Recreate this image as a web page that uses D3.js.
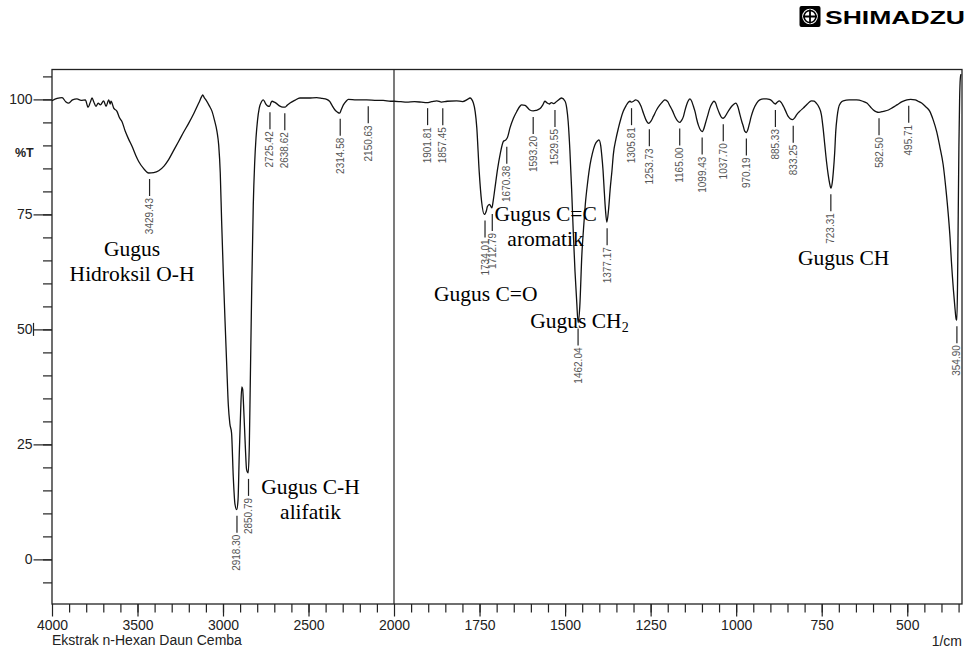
<!DOCTYPE html>
<html>
<head>
<meta charset="utf-8">
<script src="https://cdn.jsdelivr.net/npm/d3@7"></script>
<style>
  body { margin: 0; background: #fff; }
  .tick text { font-family: "Liberation Sans", Arial, sans-serif; fill: #222; }
</style>
</head>
<body>
<div class="chart"></div>
<script>
// spectrum (1/cm, %T)
var wavenumber = [4000, 3970, 3941, 3920, 3902, 3880, 3854, 3830, 3805, 3789, 3775, 3766, 3755, 3743, 3730, 3717, 3698, 3684, 3668, 3660, 3655, 3639, 3620, 3605, 3591, 3571, 3550, 3532, 3510, 3493, 3465, 3435, 3405, 3376, 3345, 3318, 3290, 3259, 3230, 3201, 3170, 3142, 3125, 3119, 3110, 3100, 3080, 3064, 3050, 3035, 3025, 3016, 3008, 2998, 2988, 2978, 2969, 2960, 2950, 2940, 2930, 2920, 2912, 2905, 2897, 2890, 2885, 2878, 2870, 2862, 2853, 2846, 2841, 2832, 2823, 2815, 2807, 2798, 2788, 2775, 2764, 2750, 2740, 2728, 2718, 2712, 2700, 2690, 2670, 2650, 2638, 2625, 2608, 2580, 2550, 2500, 2452, 2420, 2394, 2375, 2364, 2345, 2330, 2318, 2308, 2296, 2280, 2267, 2220, 2160, 2100, 2063, 2020, 2000, 1980, 1963, 1940, 1920, 1904, 1890, 1875, 1861, 1845, 1817, 1800, 1785, 1778, 1768, 1758, 1751, 1744, 1736, 1730, 1727, 1721, 1714, 1710, 1705, 1697, 1690, 1680, 1673, 1668, 1661, 1651, 1641, 1632, 1627, 1617, 1603, 1593, 1585, 1573, 1565, 1559, 1552, 1546, 1540, 1534, 1524, 1510, 1500, 1495, 1491, 1486, 1481, 1476, 1471, 1466, 1462, 1457, 1451, 1446, 1441, 1434, 1427, 1420, 1413, 1405, 1401, 1396, 1393, 1389, 1386, 1382, 1378, 1373, 1368, 1363, 1359, 1351, 1344, 1337, 1330, 1322, 1315, 1310, 1306, 1300, 1294, 1286, 1278, 1271, 1264, 1256, 1249, 1242, 1232, 1223, 1215, 1208, 1200, 1193, 1186, 1179, 1172, 1165, 1160, 1154, 1150, 1145, 1140, 1135, 1130, 1125, 1120, 1116, 1110, 1103, 1099, 1095, 1091, 1084, 1077, 1070, 1065, 1060, 1055, 1048, 1042, 1038, 1033, 1028, 1020, 1013, 1006, 1001, 995, 989, 984, 979, 975, 970, 966, 962, 956, 950, 940, 931, 920, 911, 903, 896, 890, 886, 880, 874, 868, 862, 855, 848, 842, 835, 829, 823, 813, 804, 792, 780, 772, 766, 758, 751, 746, 741, 736, 731, 727, 723, 719, 716, 712, 709, 705, 701, 694, 687, 670, 648, 630, 618, 608, 599, 590, 583, 570, 555, 543, 530, 515, 501, 490, 477, 468, 458, 446, 434, 424, 414, 405, 395, 387, 380, 375, 371, 365, 361, 357, 355, 353, 351, 349, 347, 345, 343];
var transmittance = [99.7, 100.2, 100.4, 99.5, 99.2, 99.9, 100.1, 99.8, 99.9, 98.3, 99.5, 100.3, 99.4, 98.5, 99.2, 98.8, 99.7, 98.5, 99.9, 99.0, 99.6, 98.1, 97.4, 96.0, 95.2, 93.0, 91.2, 89.8, 87.8, 86.5, 85.0, 84.0, 84.1, 84.5, 85.5, 86.9, 88.8, 90.9, 92.9, 94.8, 97.0, 99.2, 100.6, 101.0, 100.4, 99.9, 98.6, 97.4, 95.5, 93.0, 90.0, 84.0, 73.5, 62, 51.7, 42, 33.6, 29.5, 27.5, 18, 12, 10.8, 13, 22.7, 32, 37.5, 37.0, 32, 25, 19.5, 18.8, 25, 37, 59, 77, 86, 91.6, 95.5, 98.1, 99.5, 99.9, 99.0, 98.6, 98.5, 99.4, 99.6, 99.4, 99.2, 98.6, 98.3, 98.3, 98.7, 99.2, 99.8, 100.3, 100.3, 100.4, 100.2, 100.0, 99.5, 98.8, 97.7, 97.2, 97.0, 97.8, 98.8, 99.6, 100.0, 99.9, 99.9, 99.8, 99.8, 99.6, 99.6, 99.5, 99.4, 99.5, 99.4, 99.3, 99.5, 99.7, 99.4, 99.6, 99.7, 99.5, 100.0, 100.3, 99.2, 93.8, 84.3, 77.8, 75.0, 75.8, 76.7, 77.2, 76.4, 78, 80.7, 85, 88.0, 90.9, 91.2, 91.8, 93.8, 95.9, 97.4, 98.5, 98.8, 98.7, 97.7, 97.5, 97.6, 98.0, 98.8, 99.6, 99.2, 99.0, 99.3, 99.1, 99.6, 100.3, 99.6, 98, 95.2, 89, 80.7, 71, 62.6, 56, 51.5, 55, 66.2, 72, 77.1, 82, 85.8, 88.3, 90.1, 91.0, 91.2, 90.0, 88.0, 84.5, 80.7, 76, 73.3, 76, 80.7, 84.5, 88.0, 91.5, 93.8, 95.8, 97.4, 98.6, 99.4, 99.6, 99.4, 99.6, 99.9, 99.6, 98.5, 97.0, 95.6, 94.8, 95.3, 96.3, 97.8, 98.8, 99.5, 99.9, 99.5, 98.5, 97.5, 96.3, 95.4, 95.0, 95.4, 96.3, 97.5, 98.8, 99.7, 100.1, 99.6, 98.5, 97.3, 95.9, 94.3, 93.2, 93.0, 93.5, 94.5, 96.3, 98.1, 99.2, 99.6, 99.2, 98.1, 96.8, 96.0, 95.9, 96.2, 96.8, 97.8, 98.5, 99.0, 99.2, 98.4, 96.7, 95.3, 94.1, 93.1, 92.8, 93.4, 94.5, 96.3, 97.7, 99.2, 99.9, 100.1, 100.1, 100.0, 99.7, 99.2, 99.0, 99.4, 99.7, 99.3, 98.5, 97.4, 96.3, 95.8, 95.6, 96.0, 96.7, 97.5, 98.1, 99.0, 99.7, 99.6, 99.2, 98.3, 96.7, 93.8, 90.1, 86.5, 83.6, 81.8, 80.7, 82, 84.3, 88.5, 93.0, 96.2, 98.1, 99.3, 99.7, 99.9, 99.9, 99.6, 99.2, 98.4, 97.7, 97.3, 97.2, 97.4, 97.7, 98.2, 98.8, 99.5, 99.9, 100.0, 99.9, 99.6, 99.2, 98.4, 97.4, 95.5, 93.0, 89.8, 85.8, 80.5, 74.9, 70, 64.8, 58.5, 55, 52.2, 52.0, 60, 75, 90, 100, 104.5, 105.5];

// labelled peaks
var peakWave = [3429.43, 2918.30, 2850.79, 2725.42, 2638.62, 2314.58, 2150.63, 1901.81, 1857.45, 1734.01, 1712.79, 1670.38, 1593.20, 1529.55, 1462.04, 1377.17, 1305.81, 1253.73, 1165.00, 1099.43, 1037.70, 970.19, 885.33, 833.25, 723.31, 582.50, 495.71, 354.90];
var peakT = [84.0, 10.8, 18.8, 98.5, 98.3, 97.1, 99.8, 99.4, 99.4, 75.0, 76.4, 91.0, 97.5, 99.0, 51.5, 73.3, 99.4, 94.8, 95.0, 93.0, 95.9, 92.8, 99.0, 95.6, 80.7, 97.2, 99.9, 52.0];

// axis ticks
var xMajor = [4000, 3500, 3000, 2500, 2000, 1750, 1500, 1250, 1000, 750, 500];
var xMinorLeft = d3.range(3900, 2000, -100);
var xMinorRight = d3.range(1950, 340, -50);
var yMajor = [0, 25, 50, 75, 100];
var yMinor = d3.range(-5, 106, 5);

// group annotations: text lines, anchored at (1/cm, %T)
var noteText = [["Gugus", "Hidroksil O-H"], ["Gugus C-H", "alifatik"], ["Gugus C=O"], ["Gugus C=C", "aromatik"], ["Gugus CH|2"], ["Gugus CH"]];
var noteWave = [3532, 2488, 1732, 1557, 1458, 686];
var noteT = [65.9, 14.3, 56.2, 73.5, 50.3, 63.9];

var svgWidth = 967, svgHeight = 650;
var plotLeft = 52, plotRight = 962, plotTop = 69.5, plotBottom = 604;

var svg = d3.select(".chart").append("svg")
  .attr("width", svgWidth)
  .attr("height", svgHeight)
  .style("display", "block");

// x scale is compressed 2:1 above 2000 1/cm, like the instrument printout
var x = d3.scaleLinear().domain([4000, 2000, 340]).range([plotLeft, 394, plotRight]);
var y = d3.scaleLinear().domain([-9.7, 106.5]).range([plotBottom, plotTop]);

// minor ticks
svg.append("g")
  .attr("transform", `translate(0,${plotBottom})`)
  .call(d3.axisBottom(x).tickValues(xMinorLeft.concat(xMinorRight)).tickSize(8.5).tickFormat(""))
  .call(g => g.select(".domain").remove());

svg.append("g")
  .attr("transform", `translate(${plotLeft},0)`)
  .call(d3.axisLeft(y).tickValues(yMinor).tickSize(9).tickFormat(""))
  .call(g => g.select(".domain").remove());

// major ticks with labels
svg.append("g")
  .attr("transform", `translate(0,${plotBottom})`)
  .call(d3.axisBottom(x).tickValues(xMajor).tickSize(12.5).tickPadding(3.5).tickFormat(d3.format("d")))
  .call(g => g.select(".domain").remove())
  .call(g => g.selectAll("text").attr("font-size", "14px"));

svg.append("g")
  .attr("transform", `translate(${plotLeft},0)`)
  .call(d3.axisLeft(y).tickValues(yMajor).tickSize(18.5).tickPadding(1).tickFormat(d3.format("d")))
  .call(g => g.select(".domain").remove())
  .call(g => g.selectAll("text").attr("font-size", "14px"));

svg.selectAll(".tick line").attr("stroke", "#222").attr("stroke-width", 1.2);

// odd little bar next to the 50 label in the printout
svg.append("line")
  .attr("x1", 33.5).attr("x2", 33.5)
  .attr("y1", y(50) - 6.5).attr("y2", y(50) + 6.5)
  .attr("stroke", "#222").attr("stroke-width", 1.2);

// frame and the 2000 divider
svg.append("rect")
  .attr("x", plotLeft).attr("y", plotTop)
  .attr("width", plotRight - plotLeft).attr("height", plotBottom - plotTop)
  .attr("fill", "none").attr("stroke", "#222").attr("stroke-width", 1.3);

svg.append("line")
  .attr("x1", x(2000)).attr("x2", x(2000))
  .attr("y1", plotTop).attr("y2", plotBottom)
  .attr("stroke", "#222").attr("stroke-width", 1.2);

// spectrum
var spectrum = wavenumber.map((w, i) => ({ w: w, t: transmittance[i] }));

var line = d3.line()
  .x(d => x(d.w))
  .y(d => y(d.t))
  .curve(d3.curveMonotoneX);

svg.append("path")
  .datum(spectrum)
  .attr("d", line)
  .attr("fill", "none")
  .attr("stroke", "#111")
  .attr("stroke-width", 1.3)
  .attr("stroke-linejoin", "round");

// peak markers
var peaks = svg.selectAll(".peak")
  .data(peakWave.map((w, i) => ({ w: w, t: peakT[i] })))
  .enter().append("g")
  .attr("class", "peak");

peaks.append("line")
  .attr("x1", d => x(d.w)).attr("x2", d => x(d.w))
  .attr("y1", d => y(d.t) + 6)
  .attr("y2", d => y(d.t) + 23)
  .attr("stroke", "#222")
  .attr("stroke-width", 1.2);

peaks.append("text")
  .attr("transform", d => `translate(${x(d.w)},${y(d.t) + 25}) rotate(-90)`)
  .attr("text-anchor", "end")
  .attr("dy", "0.35em")
  .attr("font-family", "Liberation Sans, Arial, sans-serif")
  .attr("font-size", "10px")
  .attr("fill", "#555")
  .text(d => d.w.toFixed(2));

// group annotations
noteText.forEach(function (lines, i) {
  lines.forEach(function (s, j) {
    var t = svg.append("text")
      .attr("x", x(noteWave[i]))
      .attr("y", y(noteT[i]) + j * 25)
      .attr("text-anchor", "middle")
      .attr("font-family", "Liberation Serif, 'Times New Roman', serif")
      .attr("font-size", "21.5px")
      .attr("fill", "#000");
    var parts = s.split("|");
    t.append("tspan").text(parts[0]);
    if (parts[1]) {
      t.append("tspan").attr("dy", 4).attr("font-size", "14px").text(parts[1]);
    }
  });
});

// axis captions
svg.append("text")
  .attr("x", 15).attr("y", 153)
  .attr("dy", "0.35em")
  .attr("font-family", "Liberation Sans, Arial, sans-serif")
  .attr("font-size", "12.5px")
  .attr("font-weight", "bold")
  .attr("fill", "#222")
  .text("%T");

svg.append("text")
  .attr("x", plotLeft).attr("y", 645)
  .attr("font-family", "Liberation Sans, Arial, sans-serif")
  .attr("font-size", "14px")
  .attr("fill", "#222")
  .text("Ekstrak n-Hexan Daun Cemba");

svg.append("text")
  .attr("x", plotRight).attr("y", 646)
  .attr("text-anchor", "end")
  .attr("font-family", "Liberation Sans, Arial, sans-serif")
  .attr("font-size", "14px")
  .attr("fill", "#222")
  .text("1/cm");

// maker logo
var logo = svg.append("g").attr("transform", "translate(799.5,6)");
logo.append("rect").attr("width", 21).attr("height", 21).attr("rx", 2).attr("fill", "#000");
logo.append("circle").attr("cx", 10.5).attr("cy", 10.5).attr("r", 7.8).attr("fill", "#fff");
logo.append("circle").attr("cx", 10.5).attr("cy", 10.5).attr("r", 6).attr("fill", "none").attr("stroke", "#000").attr("stroke-width", 1.6);
logo.append("path").attr("d", "M10.5,3.5V17.5M3.5,10.5H17.5").attr("stroke", "#000").attr("stroke-width", 1.8);

svg.append("text")
  .attr("x", 825).attr("y", 23.5)
  .attr("font-family", "Liberation Sans, Arial, sans-serif")
  .attr("font-size", "18.5px")
  .attr("font-weight", "bold")
  .attr("textLength", 140)
  .attr("lengthAdjust", "spacingAndGlyphs")
  .attr("fill", "#000")
  .text("SHIMADZU");
</script>
</body>
</html>
